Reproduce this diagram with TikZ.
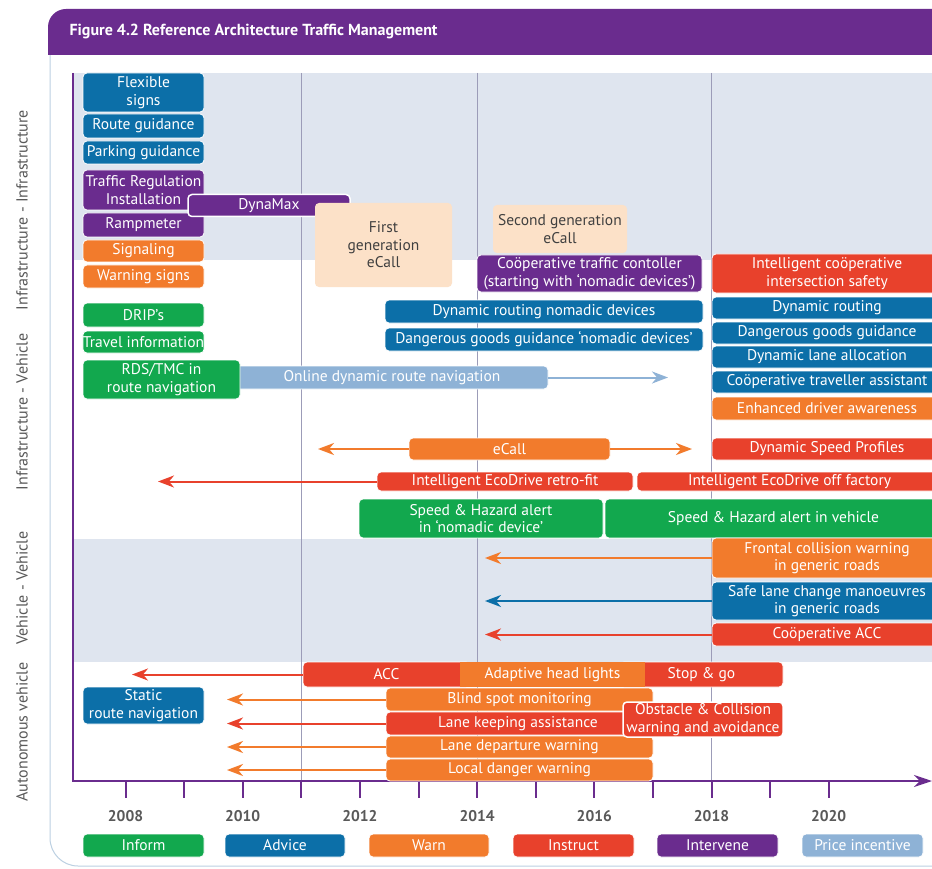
\documentclass[tikz,border=0pt]{standalone}
\usepackage{fontspec}
\setmainfont{PT Sans}
\usetikzlibrary{arrows.meta}
\definecolor{inform}{HTML}{12A84E}
\definecolor{advice}{HTML}{0C6FA8}
\definecolor{warn}{HTML}{F27B2C}
\definecolor{instruct}{HTML}{E8412C}
\definecolor{intervene}{HTML}{6A2C8E}
\definecolor{price}{HTML}{8EB2D6}
\definecolor{ecallbg}{HTML}{FCE1C8}
\definecolor{band}{HTML}{DFE5EF}
\definecolor{framecol}{HTML}{BCD0E2}
\definecolor{gridcol}{HTML}{9C9CB8}

\begin{document}
\begin{tikzpicture}[x=1pt, y=-1pt,
    bar/.style={rounded corners=4pt, draw=white, line width=.8pt, text=white, inner sep=0pt, align=center, font=\fontsize{15.5}{17.5}\selectfont},
    note/.style={bar, fill=ecallbg, draw=none, text=black!75},
    arr/.style={-{Stealth[length=16pt,width=12pt,inset=5pt]}, line width=2pt},
    sidelab/.style={rotate=90, text=black!65, font=\fontsize{16}{18}\selectfont},
    yearlab/.style={text=black!65, font=\fontsize{15.5}{17}\selectfont\bfseries},
    key/.style={bar, minimum height=23}]
\useasboundingbox (0,0) rectangle (932,869);
\fill[white] (0,0) rectangle (932,869);
\draw[framecol, line width=1pt, rounded corners=28pt] (50,55) -- (50,866) -- (960,866);
\fill[intervene, rounded corners=18pt] (48,9) rectangle (960,55);
\fill[intervene] (48,30) rectangle (960,55);
\node[anchor=west, text=white, font=\fontsize{16}{18}\selectfont\bfseries] (title) at (66,31) {Figure 4.2 Reference Architecture Traffic Management};
\fill[band] (73,73) rectangle (932,260);
\fill[band] (73,539) rectangle (932,662);
\foreach \g in {3,6,10} \draw[gridcol, line width=.6pt] (125.5+58.6*\g,73) -- (125.5+58.6*\g,781);
\node[sidelab] (lab1) at (22,210) {Infrastructure - Infrastructure};
\node[sidelab] (lab2) at (22,412) {Infrastructure - Vehicle};
\node[sidelab] (lab3) at (22,588) {Vehicle - Vehicle};
\node[sidelab] (lab4) at (22,732) {Autonomous vehicle};
\draw[intervene, line width=2.4pt] (73,73) -- (73,781);
\draw[intervene, line width=2.4pt, -{Stealth[length=18pt,width=12pt]}] (72,781) -- (932,781);
\foreach \k in {0,...,12} \draw[intervene, line width=2pt] (125.5+58.6*\k,781) -- ++(0,17);
\foreach \yr [count=\i from 0] in {2008,2010,...,2020} \node[yearlab] (yr\yr) at (125.5+117.2*\i,816) {\yr};
\node[bar, fill=advice, minimum width=121, minimum height=39] (flex) at (143.5,92.5) {Flexible\\signs};
\node[bar, fill=advice, minimum width=121, minimum height=24] (routeg) at (143.5,126) {Route guidance};
\node[bar, fill=advice, minimum width=121, minimum height=23] (parkg) at (143.5,152.5) {Parking guidance};
\node[bar, fill=intervene, minimum width=121, minimum height=40] (trafreg) at (143.5,190) {Traffic Regulation\\Installation};
\node[bar, fill=intervene, minimum width=121, minimum height=24] (ramp) at (143.5,225) {Rampmeter};
\node[bar, fill=warn, minimum width=121, minimum height=22] (signal) at (143.5,251) {Signaling};
\node[bar, fill=warn, minimum width=121, minimum height=23] (warnsig) at (143.5,276.5) {Warning signs};
\node[bar, fill=intervene, line width=1.5pt, minimum width=162, minimum height=22] (dynamax) at (269,205.5) {DynaMax};
\node[note, minimum width=137, minimum height=84] (ecallA) at (383.5,245) {First\\generation\\eCall};
\node[note, minimum width=134, minimum height=48] (ecallB) at (560,229) {Second generation\\eCall};
\node[bar, fill=intervene, minimum width=225, minimum height=37] (coop) at (589.5,273.5) {Coöperative traffic contoller\\(starting with `nomadic devices')};
\node[bar, fill=instruct, minimum width=230, minimum height=39] (intsafe) at (827,273.5) {Intelligent coöperative\\intersection safety};
\node[bar, fill=inform, minimum width=121, minimum height=24] (drip) at (143.5,315) {DRIP's};
\node[bar, fill=inform, minimum width=121, minimum height=22] (travel) at (143.5,342) {Travel information};
\node[bar, fill=price, minimum width=312, minimum height=23] (online) at (392,377.5) {Online dynamic route navigation};
\node[bar, fill=inform, minimum width=157, minimum height=39] (rds) at (161.5,379.5) {RDS/TMC in\\route navigation};
\node[bar, fill=advice, minimum width=318, minimum height=23] (dynrnom) at (544,311.5) {Dynamic routing nomadic devices};
\node[bar, fill=advice, minimum width=318, minimum height=23] (dggnom) at (544,339.5) {Dangerous goods guidance `nomadic devices'};
\node[bar, fill=advice, minimum width=230, minimum height=22] (dynr) at (827,308) {Dynamic routing};
\node[bar, fill=advice, minimum width=230, minimum height=22] (dgg) at (827,333) {Dangerous goods guidance};
\node[bar, fill=advice, minimum width=230, minimum height=22] (dla) at (827,357) {Dynamic lane allocation};
\node[bar, fill=advice, minimum width=230, minimum height=22] (cta) at (827,382) {Coöperative traveller assistant};
\node[bar, fill=warn, minimum width=230, minimum height=23] (eda) at (827,408.5) {Enhanced driver awareness};
\node[bar, fill=instruct, minimum width=230, minimum height=22] (dsp) at (827,449) {Dynamic Speed Profiles};
\node[bar, fill=warn, minimum width=201, minimum height=22] (ecall) at (509.5,449) {eCall};
\node[bar, fill=instruct, minimum width=256, minimum height=19] (ecoretro) at (505,481.5) {Intelligent EcoDrive retro-fit};
\node[bar, fill=instruct, minimum width=305, minimum height=19] (ecooff) at (789.5,481.5) {Intelligent EcoDrive off factory};
\node[bar, fill=inform, minimum width=244, minimum height=39] (shnom) at (481,518.5) {Speed \& Hazard alert\\in `nomadic device'};
\node[bar, fill=inform, minimum width=337, minimum height=39] (shveh) at (773.5,518.5) {Speed \& Hazard alert in vehicle};
\node[bar, fill=warn, minimum width=230, minimum height=40] (fcw) at (827,558) {Frontal collision warning\\in generic roads};
\node[bar, fill=advice, minimum width=230, minimum height=38] (slc) at (827,601) {Safe lane change manoeuvres\\in generic roads};
\node[bar, fill=instruct, minimum width=230, minimum height=23] (cacc) at (827,634.5) {Coöperative ACC};
\node[bar, fill=instruct, minimum width=167, minimum height=25] (acc) at (386.5,674.5) {ACC};
\node[bar, fill=instruct, minimum width=163, minimum height=25] (stopgo) at (701.5,674.5) {Stop \& go};
\node[bar, fill=warn, sharp corners, draw=none, minimum width=185, minimum height=25] (ahl) at (552.5,674.5) {Adaptive head lights};
\node[bar, fill=warn, minimum width=267, minimum height=23] (bsm) at (519.5,699.5) {Blind spot monitoring};
\node[bar, fill=instruct, minimum width=264, minimum height=23] (lka) at (518,723.5) {Lane keeping assistance};
\node[bar, fill=warn, minimum width=267, minimum height=22] (ldw) at (519.5,747) {Lane departure warning};
\node[bar, fill=warn, minimum width=267, minimum height=22] (ldanger) at (519.5,770) {Local danger warning};
\node[bar, fill=instruct, line width=1.5pt, minimum width=160, minimum height=35] (obst) at (703,719.5) {Obstacle \& Collision\\warning and avoidance};
\node[bar, fill=advice, minimum width=121, minimum height=37] (static) at (143.5,705.5) {Static\\route navigation};
\coordinate (onlineR) at (668,377.5);
\coordinate (ecallL) at (318,449);
\coordinate (ecallR) at (692,449);
\coordinate (ecoL) at (158,481.5);
\coordinate (fcwL) at (485,558);
\coordinate (slcL) at (485,601);
\coordinate (caccL) at (485,634.5);
\coordinate (accL) at (132,674.5);
\coordinate (bsmL) at (227,699.5);
\coordinate (lkaL) at (227,723.5);
\coordinate (ldwL) at (227,747);
\coordinate (ldangerL) at (227,770);
\draw[arr, price] (online.east) -- (onlineR);
\draw[arr, warn] (ecall.west) -- (ecallL);
\draw[arr, warn] (ecall.east) -- (ecallR);
\draw[arr, instruct] (ecoretro.west) -- (ecoL);
\draw[arr, warn] (fcw.west) -- (fcwL);
\draw[arr, advice] (slc.west) -- (slcL);
\draw[arr, instruct] (cacc.west) -- (caccL);
\draw[arr, instruct] (acc.west) -- (accL);
\draw[arr, warn] (bsm.west) -- (bsmL);
\draw[arr, instruct] (lka.west) -- (lkaL);
\draw[arr, warn] (ldw.west) -- (ldwL);
\draw[arr, warn] (ldanger.west) -- (ldangerL);
\node[key, fill=inform, minimum width=121] (kinform) at (143.5,845.5) {Inform};
\node[key, fill=advice, minimum width=120] (kadvice) at (285,845.5) {Advice};
\node[key, fill=warn, minimum width=120] (kwarn) at (429,845.5) {Warn};
\node[key, fill=instruct, minimum width=121] (kinstruct) at (573.5,845.5) {Instruct};
\node[key, fill=intervene, minimum width=121] (kintervene) at (717.5,845.5) {Intervene};
\node[key, fill=price, minimum width=121] (kprice) at (862.5,845.5) {Price incentive};
\end{tikzpicture}
\end{document}
